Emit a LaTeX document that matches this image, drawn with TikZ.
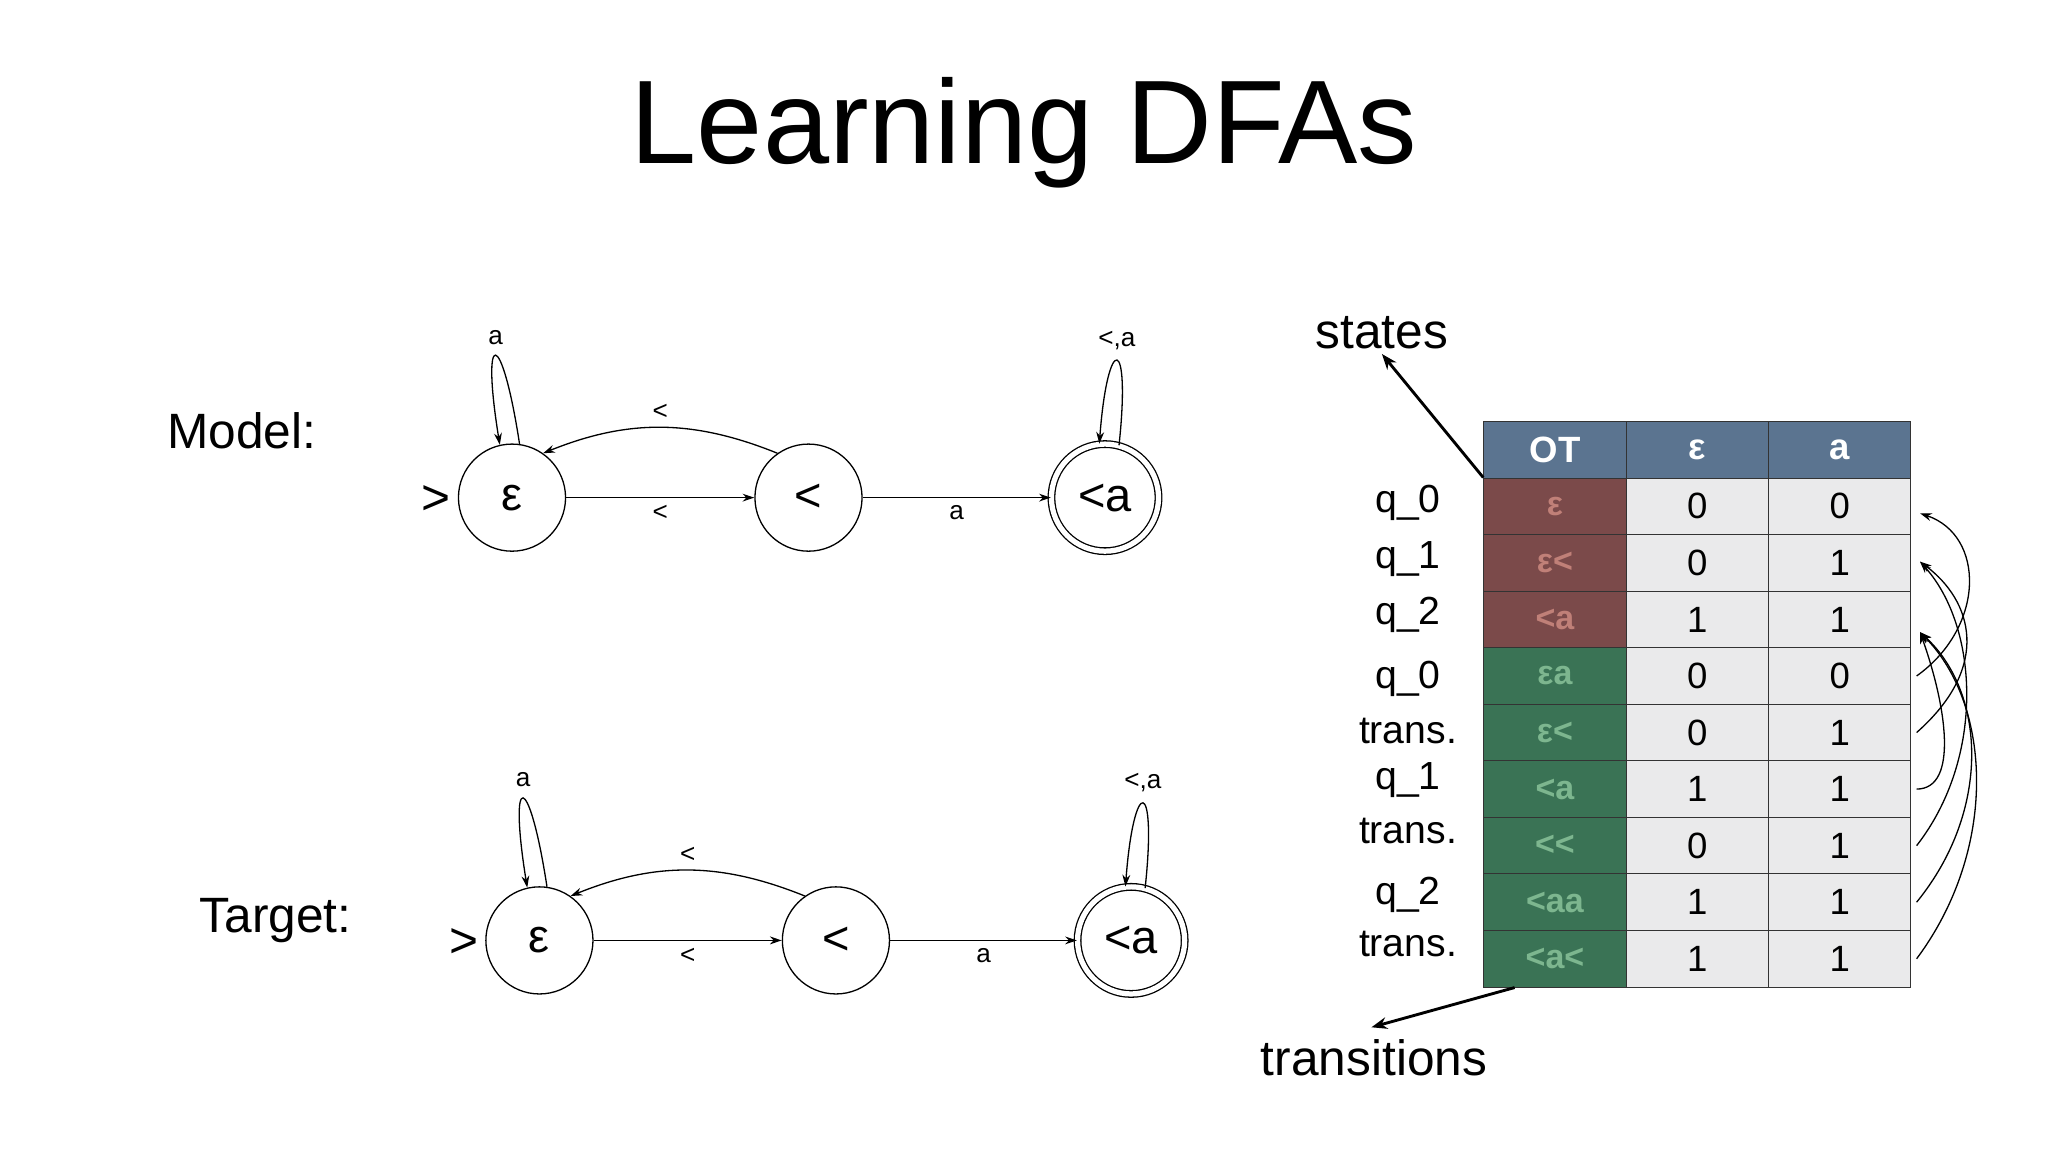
\documentclass[tikz,border=0pt]{standalone}
\usepackage{fontspec}
\setmainfont{Liberation Sans}
\usetikzlibrary{arrows.meta}
\definecolor{hdr}{HTML}{5B7490}
\definecolor{redc}{HTML}{7B4A4A}
\definecolor{redt}{HTML}{C08078}
\definecolor{grnc}{HTML}{3A7355}
\definecolor{grnt}{HTML}{7DB68F}
\definecolor{cellc}{HTML}{EAEAEB}
\begin{document}
\begin{tikzpicture}[x=1pt,y=-1pt,
  st/.style={circle,draw,line width=1pt,minimum size=82pt,inner sep=0pt,font=\fontsize{36}{36}\selectfont},
  acc/.style={st,double,double distance=4pt},
  arr/.style={-{Stealth[length=9pt,width=6pt]},line width=1pt},
  lbl/.style={font=\fontsize{20}{20}\selectfont},
  cell/.style={rectangle,draw=black!80,line width=0.8pt,minimum width=109pt,minimum height=43.3pt,inner sep=0pt,font=\fontsize{28}{28}\selectfont},
  side/.style={font=\fontsize{30}{30}\selectfont},
  big/.style={-{Stealth[length=12pt,width=9pt]},line width=2.2pt}]
\useasboundingbox[fill=white] (0,0) rectangle (1568,882);
\node (title) at (784,102) {\fontsize{91}{91}\selectfont Learning DFAs};
% Model
\node[font=\fontsize{38}{38}\selectfont] (ml) at (185,330) {Model:};
\node[st] (m0) at (392,381) {ε};
\node[st] (m1) at (619,381) {<};
\node[acc] (m2) at (846,381) {<a};
\node[font=\fontsize{38}{38}\selectfont] (mi) at (334,383) {>};
\draw[arr] (m0.east) -- node[lbl,below=2pt] {<} (m1.west);
\draw[arr] (m1.125) to[bend right=22] node[lbl,above=2pt] {<} (m0.55);
\draw[arr] (m1.east) -- node[lbl,below=2pt] {a} (m2.west);
\draw[arr] (m0.82) .. controls (384,250) and (368,250) .. (m0.103) node[lbl,pos=0.5,above=5pt] {a};
\draw[arr] (m2.75) .. controls (866,255) and (848,255) .. (m2.96) node[lbl,pos=0.5,above=5pt] {<,a};
% Target
\node[font=\fontsize{38}{38}\selectfont] (tl) at (211,705) {Target:};
\node[st] (t0) at (413,720) {ε};
\node[st] (t1) at (640,720) {<};
\node[acc] (t2) at (866,720) {<a};
\node[font=\fontsize{38}{38}\selectfont] (ti) at (355,722) {>};
\draw[arr] (t0.east) -- node[lbl,below=2pt] {<} (t1.west);
\draw[arr] (t1.125) to[bend right=22] node[lbl,above=2pt] {<} (t0.55);
\draw[arr] (t1.east) -- node[lbl,below=2pt] {a} (t2.west);
\draw[arr] (t0.82) .. controls (405,589) and (389,589) .. (t0.103) node[lbl,pos=0.5,above=5pt] {a};
\draw[arr] (t2.75) .. controls (886,594) and (868,594) .. (t2.96) node[lbl,pos=0.5,above=5pt] {<,a};
% Table header
\node[cell,fill=hdr,text=white,font=\bfseries\fontsize{28}{28}\selectfont] (h0) at (1190.5,344.5) {OT};
\node[cell,fill=hdr,text=white,font=\bfseries\fontsize{28}{28}\selectfont] (h1) at (1299.5,344.5) {ε};
\node[cell,fill=hdr,text=white,font=\bfseries\fontsize{28}{28}\selectfont] (h2) at (1408.5,344.5) {a};
\foreach \i/\lab/\e/\a/\fc/\tc in {1/ε/0/0/redc/redt,2/ε</0/1/redc/redt,3/<a/1/1/redc/redt,
  4/εa/0/0/grnc/grnt,5/ε</0/1/grnc/grnt,6/<a/1/1/grnc/grnt,7/<\kern0pt</0/1/grnc/grnt,8/<aa/1/1/grnc/grnt,9/<a</1/1/grnc/grnt}{
  \node[cell,fill=\fc,text=\tc,font=\bfseries\fontsize{26}{26}\selectfont] (r\i) at (1190.5,366+43.3*\i-21.65) {\lab};
  \node[cell,fill=cellc] (e\i) at (1299.5,366+43.3*\i-21.65) {\e};
  \node[cell,fill=cellc] (a\i) at (1408.5,366+43.3*\i-21.65) {\a};
}
% side labels
\node[side] (s1) at (1078,385) {q\_0};
\node[side] (s2) at (1078,428) {q\_1};
\node[side] (s3) at (1078,471) {q\_2};
\node[side] (s4) at (1078,520) {q\_0};
\node[side] (s5) at (1078,560) {trans.};
\node[side] (s6) at (1078,597) {q\_1};
\node[side] (s7) at (1078,636) {trans.};
\node[side] (s8) at (1078,685) {q\_2};
\node[side] (s9) at (1078,723) {trans.};
\node[font=\fontsize{38}{38}\selectfont] (states) at (1058,255) {states};
\node[font=\fontsize{38}{38}\selectfont] (trans) at (1052,810) {transitions};
\draw[big] (r1.north west) -- (states.south);
\draw[big] ([xshift=24pt]r9.south west) -- ([yshift=6pt,xshift=-2pt]trans.north);
% right arrows
\coordinate (p1) at (1470,393);
\coordinate (p2) at (1470,430);
\coordinate (p3) at (1470,484);
\draw[arr] ([xshift=4pt]a4.east) .. controls (1520,480) and (1520,410) .. (p1);
\draw[arr] ([xshift=4pt]a5.east) .. controls (1525,510) and (1510,460) .. (p2);
\draw[arr] ([xshift=4pt]a6.east) .. controls (1500,604) and (1490,540) .. (p3);
\draw[arr] ([xshift=4pt]a7.east) .. controls (1520,580) and (1515,480) .. (p2);
\draw[arr] ([xshift=4pt]a8.east) .. controls (1525,620) and (1520,530) .. (p3);
\draw[arr] ([xshift=4pt]a9.east) .. controls (1530,650) and (1525,540) .. (p3);
\end{tikzpicture}
\end{document}
